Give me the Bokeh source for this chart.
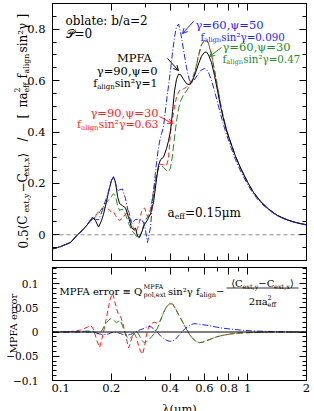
import math
from bokeh.plotting import figure
from bokeh.layouts import column, row
from bokeh.models import (Range1d, FixedTicker, CustomJSTickFormatter, LogAxis, LinearAxis,
                          Label, Arrow, OpenHead)
from bokeh.embed import file_html
from bokeh.resources import INLINE

FONT = "DejaVu Serif"
RED = "#ff1f1f"
BLUE = "#1f1fff"
GREEN = "#1f8c1f"

# ---------------- data ----------------
lam_top = [0.100, 0.110, 0.1236, 0.1343, 0.1424, 0.1511, 0.1603, 0.1661, 0.1721, 0.1782,
           0.1825, 0.1891, 0.1936, 0.2006, 0.2053, 0.2102, 0.2153, 0.2204, 0.2284, 0.2366,
           0.2452, 0.2540, 0.2600, 0.2662, 0.2726, 0.2791, 0.2857, 0.2960, 0.3067, 0.3177,
           0.3291, 0.3410, 0.3491, 0.3574, 0.3704, 0.3837, 0.3929, 0.4022, 0.4119, 0.4217,
           0.4317, 0.4420, 0.4526, 0.4689, 0.4858, 0.5033, 0.5214, 0.5402, 0.5597, 0.5798,
           0.6007, 0.6151, 0.6298, 0.6525, 0.6760, 0.7004, 0.7256, 0.7516, 0.7787, 0.8167,
           0.8660, 0.9186, 0.998, 1.071, 1.163, 1.279, 1.421, 1.599, 1.778, 2.000]

mpfa_top = [-0.055, -0.046, -0.030, 0.000, 0.018, 0.040, 0.067, 0.055, 0.030, 0.055,
            0.080, 0.130, 0.165, 0.212, 0.226, 0.205, 0.150, 0.122, 0.113, 0.105,
            0.068, 0.028, 0.020, 0.026, -0.006, -0.010, 0.008, 0.040, 0.058, 0.082,
            0.125, 0.215, 0.270, 0.292, 0.302, 0.335, 0.366, 0.405, 0.480, 0.560,
            0.605, 0.625, 0.624, 0.605, 0.588, 0.584, 0.600, 0.630, 0.665, 0.695,
            0.710, 0.711, 0.700, 0.670, 0.620, 0.560, 0.500, 0.450, 0.405, 0.360,
            0.305, 0.260, 0.205, 0.165, 0.130, 0.100, 0.075, 0.058, 0.047, 0.039]

g60p50_top = [-0.055, -0.046, -0.030, 0.000, 0.018, 0.042, 0.070, 0.060, 0.058, 0.085,
              0.110, 0.145, 0.170, 0.212, 0.224, 0.200, 0.170, 0.175, 0.178, 0.140,
              0.085, 0.040, 0.052, 0.060, 0.060, 0.056, 0.060, 0.040, -0.030, 0.030,
              0.170, 0.280, 0.340, 0.380, 0.420, 0.520, 0.580, 0.640, 0.710, 0.770,
              0.810, 0.820, 0.790, 0.720, 0.650, 0.600, 0.594, 0.610, 0.628, 0.642,
              0.647, 0.643, 0.632, 0.600, 0.560, 0.515, 0.470, 0.428, 0.390, 0.345,
              0.292, 0.248, 0.196, 0.158, 0.125, 0.097, 0.073, 0.056, 0.046, 0.038]

g90p30_top = [-0.055, -0.046, -0.030, 0.000, 0.018, 0.040, 0.060, 0.075, 0.090, 0.100,
              0.104, 0.107, 0.100, 0.088, 0.090, 0.075, 0.062, 0.055, 0.066, 0.080,
              0.094, 0.050, 0.022, 0.010, 0.025, 0.050, 0.090, 0.105, 0.070, 0.100,
              0.170, 0.235, 0.262, 0.275, 0.272, 0.268, 0.300, 0.400, 0.450, 0.500,
              0.535, 0.555, 0.565, 0.568, 0.575, 0.588, 0.610, 0.645, 0.700, 0.740,
              0.755, 0.756, 0.745, 0.700, 0.640, 0.575, 0.510, 0.455, 0.410, 0.360,
              0.305, 0.260, 0.205, 0.165, 0.130, 0.100, 0.075, 0.058, 0.047, 0.039]

g60p30_top = [-0.055, -0.046, -0.030, 0.000, 0.018, 0.040, 0.062, 0.070, 0.082, 0.100,
              0.110, 0.125, 0.135, 0.150, 0.160, 0.150, 0.115, 0.095, 0.100, 0.080,
              0.045, 0.020, 0.008, 0.000, -0.014, -0.008, 0.010, 0.050, 0.070, 0.078,
              0.160, 0.230, 0.262, 0.272, 0.262, 0.250, 0.245, 0.260, 0.310, 0.380,
              0.440, 0.490, 0.520, 0.545, 0.560, 0.578, 0.600, 0.640, 0.695, 0.740,
              0.757, 0.757, 0.745, 0.700, 0.640, 0.575, 0.510, 0.455, 0.410, 0.360,
              0.305, 0.260, 0.205, 0.165, 0.130, 0.100, 0.075, 0.058, 0.047, 0.039]

zero_lam = [0.1, 2.0]
zero_val = [0.0, 0.0]

lam_err = [0.1000, 0.1236, 0.1391, 0.1511, 0.1565, 0.1622, 0.1680, 0.1741, 0.1782, 0.1848,
           0.1891, 0.1936, 0.1982, 0.2029, 0.2077, 0.2127, 0.2178, 0.2230, 0.2284, 0.2338,
           0.2394, 0.2452, 0.2510, 0.2570, 0.2631, 0.2694, 0.2758, 0.2824, 0.2892, 0.2960,
           0.3031, 0.3104, 0.3215, 0.3330, 0.3450, 0.3574, 0.3704, 0.3837, 0.3975, 0.4119,
           0.4266, 0.4420, 0.4579, 0.4744, 0.4915, 0.5092, 0.5276, 0.5466, 0.5662, 0.5866,
           0.6151, 0.6525, 0.6920, 0.7426, 0.8167, 0.9186, 1.071, 1.309, 1.657, 2.000]

g90p30_err = [0, 0.001, 0.004, 0.010, 0.014, 0.006, -0.015, -0.032, -0.018, 0.010,
              0.030, 0.052, 0.070, 0.080, 0.066, 0.048, 0.036, 0.032, 0.020, 0.004,
              -0.015, -0.033, -0.022, -0.008, -0.004, -0.012, -0.028, -0.040, -0.046, -0.030,
              -0.006, 0.010, 0.018, 0.020, 0.018, 0.024, 0.040, 0.052, 0.058, 0.058,
              0.048, 0.036, 0.025, 0.013, 0.002, -0.008, -0.015, -0.020, -0.022, -0.021,
              -0.018, -0.014, -0.010, -0.007, -0.004, -0.002, -0.001, 0, 0, 0]

g60p30_err = [0, 0, 0.001, 0.002, 0.002, 0.001, -0.002, -0.004, 0.002, 0.013,
              0.019, 0.024, 0.027, 0.026, 0.023, 0.019, 0.022, 0.024, 0.012, 0.002,
              -0.008, -0.014, -0.012, -0.008, -0.002, 0.001, -0.004, -0.012, -0.019, -0.022,
              -0.020, -0.017, -0.010, -0.002, 0.008, 0.024, 0.040, 0.052, 0.058, 0.058,
              0.048, 0.036, 0.025, 0.013, 0.002, -0.008, -0.015, -0.020, -0.022, -0.021,
              -0.018, -0.014, -0.010, -0.007, -0.004, -0.002, -0.001, 0, 0, 0]

g60p50_err = [0, 0, 0, 0, 0, -0.001, -0.002, -0.004, -0.005, -0.005,
              -0.005, -0.004, -0.002, -0.001, 0, -0.001, -0.002, -0.003, -0.005, -0.006,
              -0.006, -0.006, -0.005, -0.003, -0.001, 0.001, 0.003, 0.005, 0.006, 0.008,
              0.010, 0.012, 0.010, 0.005, -0.001, -0.008, -0.013, -0.017, -0.019, -0.019,
              -0.015, -0.008, -0.001, 0.006, 0.011, 0.015, 0.017, 0.017, 0.016, 0.015,
              0.014, 0.012, 0.010, 0.008, 0.006, 0.004, 0.002, 0.001, 0, 0]

mpfa_err = [0.0, 0.0]

x_major = [0.1, 0.2, 0.4, 0.6, 0.8, 1, 2]
x_minor = [0.3, 0.5, 0.7, 0.9]
ytop_major = [0, 0.2, 0.4, 0.6, 0.8]
ytop_minor = [round(-0.1 + 0.05 * i, 3) for i in range(21)]
ybot_major = [-0.1, -0.05, 0, 0.05, 0.1]
ybot_minor = [round(-0.1 + 0.01 * i, 3) for i in range(24)]

# ---------------- geometry (page pixels) ----------------
XMIN, XMAX = 0.1, 2.0
TY0, TY1 = -0.1, 0.9
BY0, BY1 = -0.1, 0.133
FX0, FX1 = 52, 306
T0, T1 = 3, 260
B0, B1 = 267, 380
TOP_H, BOT_H, XL_H = 263, 134, 14
LW = 51                      # width of the left label strip


def fx(px):
    return XMIN * (XMAX / XMIN) ** ((px - FX0) / (FX1 - FX0))


def fty(py):
    return TY1 - (py - T0) / (T1 - T0) * (TY1 - TY0)


def fby(py):
    return BY1 - (py - B0) / (B1 - B0) * (BY1 - BY0)


def pty(v):
    return T0 + (TY1 - v) / (TY1 - TY0) * (T1 - T0)


def pby(v):
    return B0 + (BY1 - v) / (BY1 - BY0) * (B1 - B0)


EM = {' ': 0.318, '0': 0.636, '1': 0.636, '2': 0.636, '3': 0.636, '4': 0.636, '5': 0.636,
      '6': 0.636, '7': 0.636, '8': 0.636, '9': 0.636, '.': 0.318, ',': 0.318, ':': 0.337,
      '=': 0.838, '≡': 0.838, '/': 0.337, '(': 0.39, ')': 0.39, '[': 0.39, ']': 0.39,
      'a': 0.596, 'b': 0.640, 'c': 0.560, 'e': 0.592, 'f': 0.370, 'g': 0.640, 'i': 0.320,
      'l': 0.320, 'm': 0.948, 'n': 0.644, 'o': 0.602, 'p': 0.640, 'r': 0.478, 's': 0.513,
      't': 0.402, 'x': 0.565, 'y': 0.565, 'A': 0.722, 'C': 0.734, 'F': 0.720, 'M': 0.995,
      'P': 0.733, 'Q': 0.820, 'γ': 0.60, 'ψ': 0.78, 'π': 0.64, 'μ': 0.65, '²': 0.40,
      '−': 0.838, '⟨': 0.39, '⟩': 0.39}
SUBR = 0.65


def tw(s, fs):
    return fs * sum(EM.get(c, 0.62) for c in s)


def rich(fig, fyf, x, y, parts, size=11.5, color="black", align="left"):
    sfs = size * SUBR

    def adv(t, k):
        if k.endswith("0"):
            return 0
        if k == "gap":
            return float(t)
        return tw(t, size if k == "n" else sfs)

    total = sum(adv(t, k) for t, k in parts)
    if align == "right":
        x -= total
    elif align == "center":
        x -= total / 2
    cx = x
    for t, k in parts:
        if k != "gap":
            if k == "n":
                fs, dy = size, 0
            elif k.startswith("sub"):
                fs, dy = sfs, 0.32 * size
            else:
                fs, dy = sfs, -0.42 * size
            fig.add_layout(Label(x=fx(cx), y=fyf(y + dy), text=t, text_font=FONT,
                                 text_font_size=f"{fs:.1f}px", text_color=color,
                                 text_align="left", text_baseline="alphabetic"))
        cx += adv(t, k)


def vtext(fig, pieces, xb, size):
    # rotated text inside the strip figure whose data units are page pixels
    for t, k, py in pieces:
        if k == "n":
            fs, dx = size, 0
        elif k == "sub":
            fs, dx = size * SUBR, 0.3 * size
        else:
            fs, dx = size * SUBR, -0.45 * size
        fig.add_layout(Label(x=xb + dx, y=py, text=t, text_font=FONT,
                             text_font_size=f"{fs:.1f}px", angle=math.pi / 2,
                             text_align="left", text_baseline="alphabetic",
                             text_color="black"))


def tick_text(v):
    return ("%g" % v).replace("-", "\u2212")


def ticklabels(fig, values, pyf, xr, size):
    for v in values:
        fig.add_layout(Label(x=xr, y=pyf(v), text=tick_text(v), text_font=FONT,
                             text_font_size=size, text_align="right", text_baseline="middle",
                             text_color="black"))


FMT = CustomJSTickFormatter(code="return String(tick).replace('-', '\u2212');")


def style_axis(ax, major, minor, labels, fs="11.5px", standoff=5):
    ax.ticker = FixedTicker(ticks=major, minor_ticks=minor)
    ax.major_tick_in = 7
    ax.major_tick_out = 0
    ax.minor_tick_in = 4
    ax.minor_tick_out = 0
    ax.axis_line_color = "black"
    ax.major_tick_line_color = "black"
    ax.minor_tick_line_color = "black"
    if labels:
        ax.formatter = FMT
        ax.major_label_text_font = FONT
        ax.major_label_text_font_size = fs
        ax.major_label_text_color = "black"
        ax.major_label_standoff = standoff
    else:
        ax.major_label_text_font_size = "0px"
        ax.major_label_text_color = None
        ax.major_label_standoff = 0


def strip(w, h, y_top_page):
    s = figure(width=w, height=h, x_range=Range1d(0, w),
               y_range=Range1d(y_top_page + h, y_top_page),
               output_backend="svg", toolbar_location=None, min_border=0,
               x_axis_location=None, y_axis_location=None)
    s.xgrid.visible = False
    s.ygrid.visible = False
    s.outline_line_color = None
    return s


MW = 314 - LW

# ---------------- top panel ----------------
top = figure(width=MW, height=TOP_H, x_axis_type="log",
             x_range=Range1d(XMIN, XMAX), y_range=Range1d(TY0, TY1),
             output_backend="svg", toolbar_location=None,
             min_border_left=1, min_border_right=8, min_border_top=3, min_border_bottom=3)
top.xgrid.visible = False
top.ygrid.visible = False
top.outline_line_color = "black"
top.add_layout(LogAxis(), "above")
top.add_layout(LinearAxis(), "right")
style_axis(top.below[0], x_major, x_minor, False)
style_axis(top.above[0], x_major, x_minor, False)
style_axis(top.left[0], ytop_major, ytop_minor, False)
style_axis(top.right[0], ytop_major, ytop_minor, False)

top.line(zero_lam, zero_val, line_color="#8c8c8c", line_dash="4 3", line_width=1)
top.line(lam_top, g90p30_top, line_color=RED, line_dash="5 3", line_width=1)
top.line(lam_top, g60p30_top, line_color=GREEN, line_dash="7 3", line_width=1)
top.line(lam_top, mpfa_top, line_color="black", line_width=1)
top.line(lam_top, g60p50_top, line_color=BLUE, line_dash="6 2 1 2", line_width=1)

rich(top, fty, 65, 20, [("oblate: b/a=2", "n")], size=12)
rich(top, fty, 65, 33, [("𝒫=0", "n")], size=12)

rich(top, fty, 153, 57, [("MPFA", "n")], size=11.5, align="right")
rich(top, fty, 157, 70, [("γ=90,ψ=0", "n")], size=11.5, align="right")
rich(top, fty, 157, 83, [("f", "n"), ("align", "sub"), ("sin²γ=1", "n")], size=10.8, align="right")

rich(top, fty, 158, 112, [("γ=90,ψ=30", "n")], size=11.5, color=RED, align="right")
rich(top, fty, 158, 124, [("f", "n"), ("align", "sub"), ("sin²γ=0.63", "n")], size=10.8,
     color=RED, align="right")

rich(top, fty, 195, 24, [("γ=60,ψ=50", "n")], size=11.5, color=BLUE)
rich(top, fty, 200, 36, [("f", "n"), ("align", "sub"), ("sin²γ=0.090", "n")], size=10.3, color=BLUE)

rich(top, fty, 222, 46, [("γ=60,ψ=30", "n")], size=11.5, color=GREEN)
rich(top, fty, 222, 58, [("f", "n"), ("align", "sub"), ("sin²γ=0.47", "n")], size=10.3, color=GREEN)

rich(top, fty, 167, 212, [("a", "n"), ("eff", "sub"), ("=0.15μm", "n")], size=12)

for (x0, y0, x1, y1, c) in [(167, 58, 178, 70, "black"), (193, 21, 182, 33, BLUE),
                            (221, 47, 209, 56, GREEN), (159, 116, 172, 123, RED)]:
    top.add_layout(Arrow(end=OpenHead(size=5, line_color=c, line_width=1),
                         x_start=fx(x0), y_start=fty(y0), x_end=fx(x1), y_end=fty(y1),
                         line_color=c, line_width=1))

# ---------------- bottom panel ----------------
bot = figure(width=MW, height=BOT_H, x_axis_type="log",
             x_range=Range1d(XMIN, XMAX), y_range=Range1d(BY0, BY1),
             output_backend="svg", toolbar_location=None,
             min_border_left=1, min_border_right=8, min_border_top=4, min_border_bottom=17)
bot.xgrid.visible = False
bot.ygrid.visible = False
bot.outline_line_color = "black"
bot.add_layout(LogAxis(), "above")
bot.add_layout(LinearAxis(), "right")
style_axis(bot.below[0], x_major, x_minor, True, fs="11.5px", standoff=3)
style_axis(bot.above[0], x_major, x_minor, False)
style_axis(bot.left[0], ybot_major, ybot_minor, False)
style_axis(bot.right[0], ybot_major, ybot_minor, False)

bot.line(lam_err, g90p30_err, line_color=RED, line_dash="5 3", line_width=1)
bot.line(lam_err, g60p30_err, line_color=GREEN, line_dash="7 3", line_width=1)
bot.line(lam_err, g60p50_err, line_color=BLUE, line_dash="6 2 1 2", line_width=1)
bot.line(zero_lam, mpfa_err, line_color="black", line_width=1)

rich(bot, fby, 59, 291, [("MPFA error ≡ Q", "n"), ("MPFA", "sup0"), ("pol,ext", "sub"),
                         ("2", "gap"), ("sin²γ f", "n"), ("align", "sub"), (" −", "n")], size=10)
rich(bot, fby, 262, 283, [("⟨C", "n"), ("ext,y", "sub"), ("−C", "n"), ("ext,x", "sub"),
                          ("⟩", "n")], size=10, align="center")
rich(bot, fby, 262, 301, [("2πa", "n"), ("2", "sup0"), ("eff", "sub")], size=10, align="center")
bot.add_layout(Arrow(start=None, end=None, x_start=fx(226), y_start=fby(287.5),
                     x_end=fx(298), y_end=fby(287.5), line_color="black", line_width=0.8))

# ---------------- left strip: y tick labels and rotated axis titles ----------------
ls = strip(LW, TOP_H + BOT_H, 0)
ticklabels(ls, ytop_major, pty, 45, "11.5px")
ticklabels(ls, ybot_major, pby, 38, "10.5px")
vtext(ls, [("0.5", "n", 248), ("⟨C", "n", 229), ("ext,y", "sub", 212),
           ("−C", "n", 192), ("ext,x", "sub", 176), ("⟩", "n", 157),
           ("/", "n", 141), ("[", "n", 118), ("πa", "n", 107),
           ("2", "sup", 92), ("eff", "sub", 92), ("f", "n", 78),
           ("align", "sub", 73), ("sin²γ", "n", 52), ("]", "n", 18)], 22, 12)
vtext(ls, [("MPFA error", "n", 353)], 13, 10)

# ---------------- x-axis title strip ----------------
xl = strip(314, XL_H, TOP_H + BOT_H)
xl.add_layout(Label(x=179, y=408, text="λ(μm)", text_font=FONT, text_font_size="11.5px",
                    text_align="center", text_baseline="alphabetic", text_color="black"))

layout = column(row(ls, column(top, bot)), xl)

open("out.html", "w").write(file_html(layout, INLINE))
